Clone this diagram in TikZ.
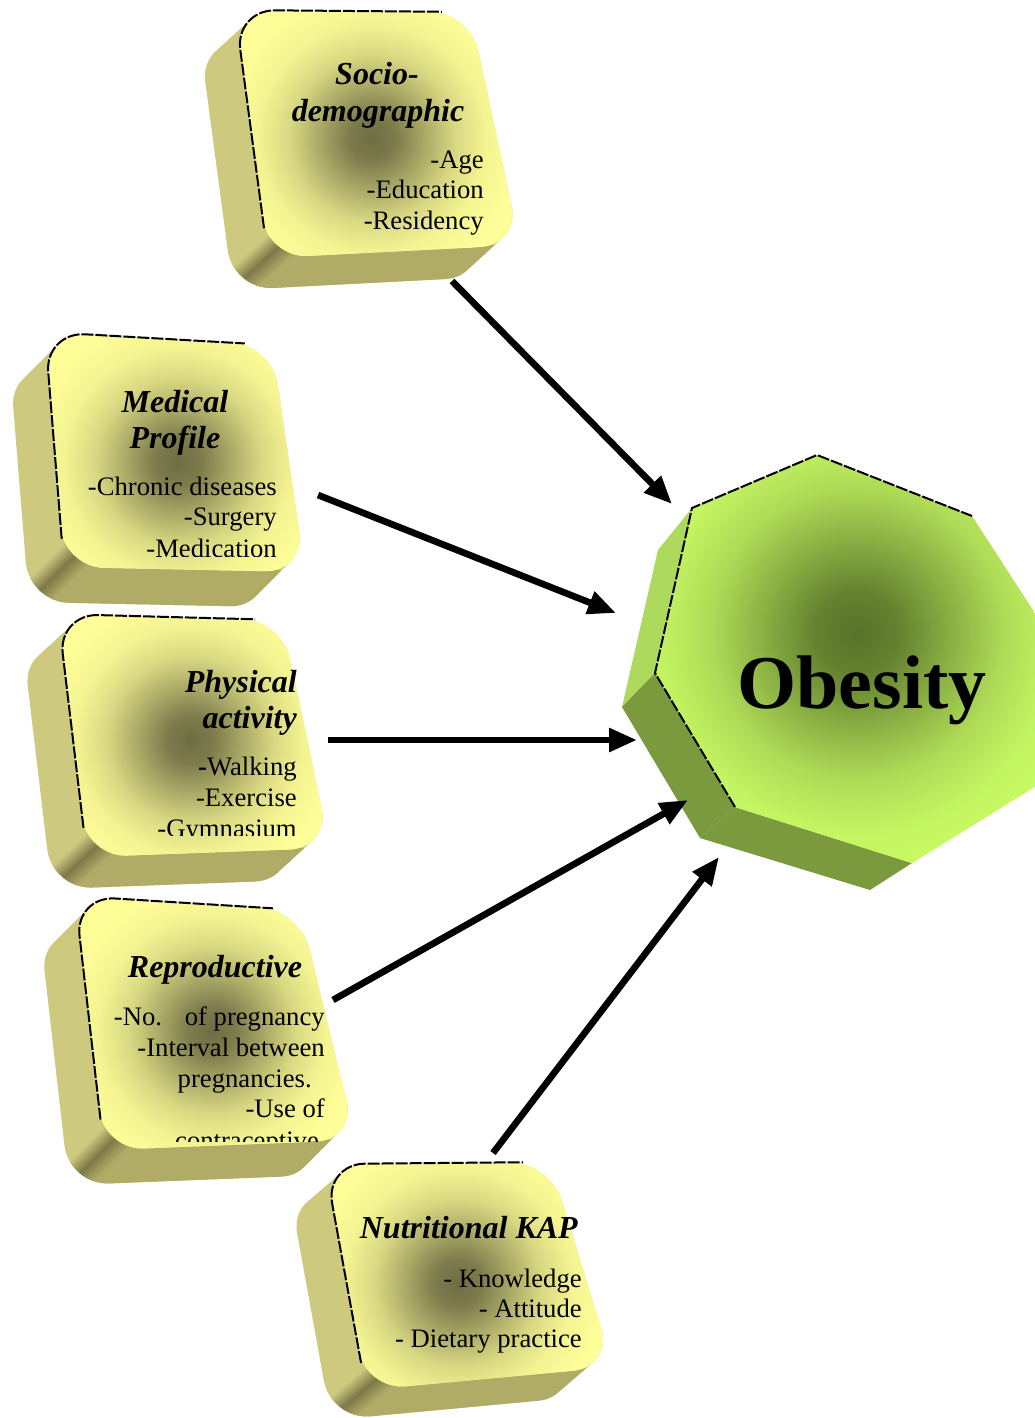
\documentclass[tikz,border=0pt]{standalone}
\usepackage{fontspec}
\setmainfont{Liberation Serif}
\usetikzlibrary{arrows.meta,calc}

\definecolor{yfront}{HTML}{FFFF99}
\definecolor{ydark}{HTML}{6E6C43}
\definecolor{ysideL}{HTML}{CDC97E}
\definecolor{ysideB}{HTML}{B0AB66}
\definecolor{yseam}{HTML}{7D7848}
\definecolor{gfront}{HTML}{CCFF66}
\definecolor{gdark}{HTML}{587229}
\definecolor{gsideL}{HTML}{ADDA5C}
\definecolor{gsideB}{HTML}{7B993D}
\colorlet{ysA}{ydark!89!yfront}
\colorlet{ysB}{ydark!57!yfront}
\colorlet{ysC}{ydark!26!yfront}
\colorlet{ysD}{ydark!8!yfront}
\colorlet{gsA}{gdark!89!gfront}
\colorlet{gsB}{gdark!57!gfront}
\colorlet{gsC}{gdark!26!gfront}
\colorlet{gsD}{gdark!8!gfront}

\pgfdeclareradialshading{yblob}{\pgfpoint{0bp}{0bp}}{color(0bp)=(ydark); color(4bp)=(ysA); color(9bp)=(ysB); color(14bp)=(ysC); color(19bp)=(ysD); color(25bp)=(yfront); color(50bp)=(yfront)}
\pgfdeclareradialshading{gblob}{\pgfpoint{0bp}{0bp}}{color(0bp)=(gdark); color(4bp)=(gsA); color(9bp)=(gsB); color(14bp)=(gsC); color(19bp)=(gsD); color(25bp)=(gfront); color(50bp)=(gfront)}

\tikzset{
  faceedge/.style={draw=black, line width=1.5pt, dash pattern=on 9pt off 1.5pt},
  ttl/.style={font=\fontsize{24}{27.75}\selectfont\bfseries\itshape, inner sep=0pt},
  itm/.style={font=\fontsize{20}{22.5}\selectfont, inner sep=0pt, anchor=base east},
  arr/.style={line width=5pt, -{Triangle[length=21pt,width=17pt]}},
}

% #1 name, #2 offx, #3 offy, #4 blob x, #5 blob y
\newcommand{\drawybox}[5]{%
  \begin{scope}
    \path[clip, rounded corners=30pt]
      \foreach \k in {0,...,24}{
        ([shift={({\k*(#2)/24},{\k*(#3)/24})}]#1-tl) --
        ([shift={({\k*(#2)/24},{\k*(#3)/24})}]#1-tr) --
        ([shift={({\k*(#2)/24},{\k*(#3)/24})}]#1-br) --
        ([shift={({\k*(#2)/24},{\k*(#3)/24})}]#1-bl) -- cycle
      };
    \fill[ysideL] ([shift={(-80,-80)}]#1-tl) rectangle ([shift={(80,80)}]#1-br);
    \fill[ysideB] ([shift={(11,-11)}]#1-bl) -- (#1-br)
       -- ([shift={({2*(#2)},{2*(#3)})}]#1-br)
       -- ([shift={({2*(#2)+11},{2*(#3)-11})}]#1-bl) -- cycle;
    \foreach \k in {-9,...,9}{
      \pgfmathtruncatemacro{\tv}{100-11*abs(\k)}
      \ifnum\k<0 \def\sidec{ysideL}\else\def\sidec{ysideB}\fi
      \draw[line width=1.6pt, color=yseam!\tv!\sidec]
        ([shift={({11+1.2*\k-0.3*(#2)},{-11+1.27*\k-0.3*(#3)})}]#1-bl) --
        ([shift={({11+1.2*\k+1.5*(#2)},{-11+1.27*\k+1.5*(#3)})}]#1-bl);
    }
  \end{scope}
  \begin{scope}
    \clip[rounded corners=30pt] (#1-tl) -- (#1-tr) -- (#1-br) -- (#1-bl) -- cycle;
    \fill[yfront] ([shift={(-20,-20)}]#1-tl) rectangle ([shift={(60,60)}]#1-br);
    \shade[shading=yblob] (#4,#5) circle (150);
  \end{scope}
  \draw[faceedge, rounded corners=30pt] ($(#1-tl)!0.88!(#1-bl)$) -- (#1-tl) -- ($(#1-tl)!0.88!(#1-tr)$);
}

\begin{document}
\begin{tikzpicture}[x=0.75pt,y=-0.75pt]
\useasboundingbox (0,0) rectangle (1035,1418);
\clip (0,0) rectangle (1035,1418);
\fill[white] (0,0) rectangle (1035,1418);

% ---------- Obesity ----------
\coordinate (F1) at (817,455);
\coordinate (F2) at (972,516);
\coordinate (F3) at (1115,737);
\coordinate (F4) at (912,863);
\coordinate (F5) at (735,807);
\coordinate (F6) at (655,673);
\coordinate (F7) at (692,508);
\coordinate (B4) at (870,890);
\coordinate (B5) at (700,838);
\coordinate (B6) at (622,707);
\coordinate (B7) at (658,550);
\fill[gsideL] (F7) -- (F6) -- (B6) -- (B7) -- cycle;
\fill[gsideB] (F6) -- (F5) -- (B5) -- (B6) -- cycle;
\fill[gsideB] (F5) -- (F4) -- (B4) -- (B5) -- cycle;
\begin{scope}
  \clip (F1) -- (F2) -- (F3) -- (F4) -- (F5) -- (F6) -- (F7) -- cycle;
  \fill[gfront] (640,440) rectangle (1130,880);
  \shade[shading=gblob] (857,633) circle (260);
\end{scope}
\draw[faceedge] (F5) -- (F6) -- (F7) -- (F1) -- (F2);
\node[inner sep=0pt, anchor=base, font=\fontsize{57}{60}\selectfont\bfseries] (obesity) at (862,708) {Obesity};

% ---------- Socio-demographic ----------
\coordinate (soc-tl) at (235,10);
\coordinate (soc-tr) at (470,12);
\coordinate (soc-br) at (520,245);
\coordinate (soc-bl) at (268,258);
\drawybox{soc}{-35}{32}{372}{138}
\node[ttl, anchor=base] (soc-t1) at (377,84) {Socio-};
\node[ttl, anchor=base] (soc-t2) at (378,121) {demographic};
\node[itm] (soc-i1) at (484,168) {-Age};
\node[itm] (soc-i2) at (484,198) {-Education};
\node[itm] (soc-i3) at (484,229) {-Residency};

% ---------- Medical Profile ----------
\coordinate (med-tl) at (45,332);
\coordinate (med-tr) at (272,345);
\coordinate (med-br) at (305,572);
\coordinate (med-bl) at (64,567);
\drawybox{med}{-35}{35}{178}{462}
\node[ttl, anchor=base] (med-t1) at (175,412) {Medical};
\node[ttl, anchor=base] (med-t2) at (175,448) {Profile};
\node[itm] (med-i1) at (277,495) {-Chronic diseases};
\node[itm] (med-i2) at (277,525) {-Surgery};
\begin{scope}
  \clip (60,520) rectangle (300,556);
  \node[itm] (med-i3) at (277,557) {-Medication};
\end{scope}

% ---------- Physical activity ----------
\coordinate (phy-tl) at (58,614);
\coordinate (phy-tr) at (282,620);
\coordinate (phy-br) at (330,848);
\coordinate (phy-bl) at (87,857);
\drawybox{phy}{-35}{32}{190}{740}
\node[ttl, anchor=base east] (phy-t1) at (297,692) {Physical};
\node[ttl, anchor=base east] (phy-t2) at (297,728) {activity};
\node[itm] (phy-i1) at (297,775) {\textbf{-}Walking};
\node[itm] (phy-i2) at (297,806) {-Exercise};
\begin{scope}
  \clip (80,810) rectangle (320,835);
  \node[itm] (phy-i3) at (297,837) {-Gymnasium};
\end{scope}

% ---------- Reproductive ----------
\coordinate (rep-tl) at (75,896);
\coordinate (rep-tr) at (300,910);
\coordinate (rep-br) at (356,1140);
\coordinate (rep-bl) at (104,1150);
\drawybox{rep}{-35}{35}{212}{1030}
\node[ttl, anchor=base] (rep-t1) at (215,977) {Reproductive};
\node[itm] (rep-i1) at (325,1025) {-No.\hspace{0.85em}of pregnancy};
\node[itm] (rep-i2) at (325,1056) {-Interval between};
\node[itm] (rep-i3) at (312,1087) {pregnancies.};
\node[itm] (rep-i4) at (325,1117) {-Use of};
\begin{scope}
  \clip (100,1120) rectangle (350,1141);
  \node[itm, anchor=base] (rep-i5) at (247,1149) {contraceptive};
\end{scope}

% ---------- Nutritional KAP ----------
\coordinate (nut-tl) at (325,1164);
\coordinate (nut-tr) at (550,1162);
\coordinate (nut-br) at (613,1367);
\coordinate (nut-bl) at (366,1390);
\drawybox{nut}{-35}{30}{458}{1283}
\node[ttl, anchor=base east] (nut-t1) at (578,1238) {Nutritional KAP};
\node[itm] (nut-i1) at (582,1287) {- Knowledge};
\node[itm] (nut-i2) at (582,1317) {- Attitude};
\node[itm] (nut-i3) at (582,1347) {- Dietary practice};

% ---------- Arrows ----------
\coordinate (a1s) at (452,281);  \coordinate (a1e) at (672,504);
\coordinate (a2s) at (318,495);  \coordinate (a2e) at (616,613);
\coordinate (a3s) at (328,740);  \coordinate (a3e) at (637,740);
\coordinate (a4s) at (333,1000); \coordinate (a4e) at (688,800);
\coordinate (a5s) at (493,1153); \coordinate (a5e) at (719,857);
\draw[arr] (a1s) -- (a1e);
\draw[arr] (a2s) -- (a2e);
\draw[arr] (a3s) -- (a3e);
\draw[arr] (a4s) -- (a4e);
\draw[arr] (a5s) -- (a5e);
\end{tikzpicture}
\end{document}
